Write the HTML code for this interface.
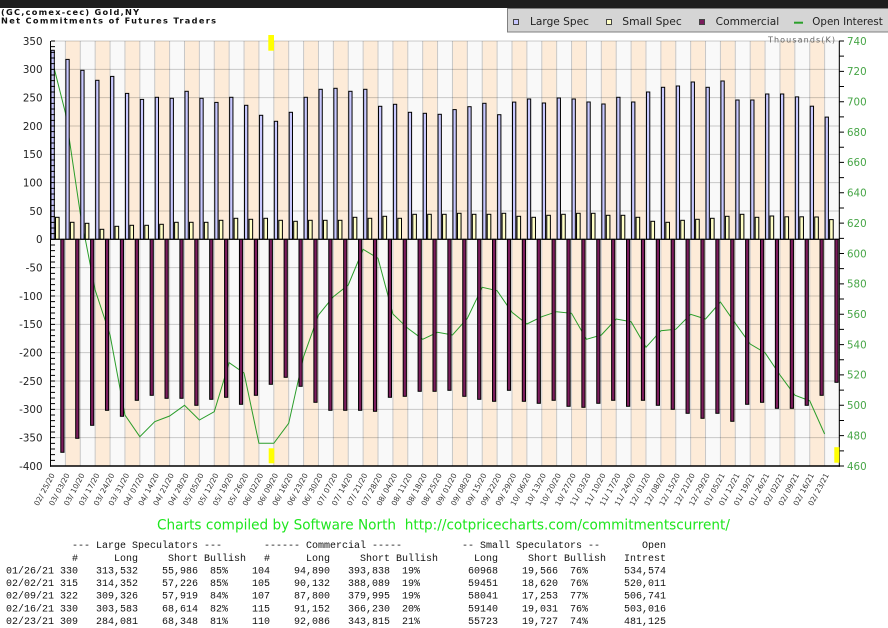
<!DOCTYPE html>
<html><head><meta charset="utf-8"><style>
html,body{margin:0;padding:0;background:#fff;width:888px;height:628px;overflow:hidden}
svg{display:block}
.a{fill:#c8c8ff;stroke:#000;stroke-width:1}
.b{fill:#ffffc6;stroke:#000;stroke-width:1}
.c{fill:#7b1c5c;stroke:#000;stroke-width:1}
.yl{font-family:"DejaVu Sans",sans-serif;font-size:10.3px;fill:#222;text-anchor:end}
.yr{font-family:"DejaVu Sans",sans-serif;font-size:10.3px;fill:#46a546}
.xl{font-family:"DejaVu Sans",sans-serif;font-size:7.4px;fill:#333;text-anchor:end}
.tb{font-family:"Liberation Mono",monospace;font-size:10px;fill:#111}
.lg{font-family:"DejaVu Sans",sans-serif;font-size:10.5px;fill:#222}
</style></head><body>
<svg width="888" height="628" viewBox="0 0 888 628" xmlns="http://www.w3.org/2000/svg">
<rect x="0" y="0" width="888" height="628" fill="#fff"/>
<rect x="0" y="0" width="888" height="8" fill="#1e1e1e"/>
<rect x="507.5" y="8.5" width="381" height="23.5" fill="#d5d5d5" stroke="#808080"/>
<rect x="513.5" y="19.5" width="5" height="5" fill="#c8c8ff" stroke="#444"/>
<text class="lg" x="530" y="25" textLength="59" lengthAdjust="spacingAndGlyphs">Large Spec</text>
<rect x="606.5" y="19.5" width="5" height="5" fill="#ffffc6" stroke="#444"/>
<text class="lg" x="622.3" y="25" textLength="59.5" lengthAdjust="spacingAndGlyphs">Small Spec</text>
<rect x="699.5" y="19.5" width="5" height="5" fill="#7b1c5c" stroke="#444"/>
<text class="lg" x="715.7" y="25" textLength="63.5" lengthAdjust="spacingAndGlyphs">Commercial</text>
<line x1="794" y1="22.7" x2="803" y2="22.7" stroke="#2aa02a" stroke-width="2"/>
<text class="lg" x="812.3" y="25" textLength="70.5" lengthAdjust="spacingAndGlyphs">Open Interest</text>
<text x="1" y="15" font-family="DejaVu Sans" font-weight="bold" font-size="8.2" fill="#111" textLength="138" lengthAdjust="spacing">(GC,comex-cec) Gold,NY</text>
<text x="1" y="23.4" font-family="DejaVu Sans" font-weight="bold" font-size="8.2" fill="#111" textLength="215" lengthAdjust="spacing">Net Commitments of Futures Traders</text>

<rect x="51" y="41" width="788.5" height="425" fill="#f9f9f9"/>
<line x1="65.39" y1="253.5" x2="839.5" y2="253.5" stroke="#fdebd8" stroke-width="425" stroke-dasharray="14.887 14.887"/>
<line x1="50" y1="253.5" x2="840" y2="253.5" stroke="#c8c8c8" stroke-width="425" stroke-dasharray="1 13.887"/>
<line x1="445" y1="40.5" x2="445" y2="466" stroke="rgba(0,0,0,0.2)" stroke-width="788" stroke-dasharray="1 27.3333"/>

<polyline fill="none" stroke="#2a9d2a" stroke-width="1" points="50.5,53.7 65.39,112.7 80.27,213.3 95.16,290 110.05,335 124.94,415 139.82,436.7 154.71,421.7 169.6,416 184.48,405.3 199.37,420 214.26,411.7 229.14,362.7 244.03,373 258.92,443.3 273.81,443.3 288.69,423.3 303.58,356.7 318.47,315 333.35,296.7 348.24,285 363.13,249.3 378.01,258.3 392.9,314 407.79,328.3 422.68,339.3 437.56,332.3 452.45,335 467.34,318.3 482.22,287.3 497.11,290.7 512,312.3 526.88,324 541.77,316.7 556.66,311.7 571.55,313.3 586.43,339.3 601.32,335 616.21,319 631.09,321.7 645.98,347.3 660.87,330.7 675.75,329.3 690.64,314.3 705.53,319 720.42,302 735.3,323.3 750.19,344 765.08,352.8 779.96,375 794.85,395.2 809.74,400.8 824.62,434"/>

<g transform="translate(50.5 0)"><rect class="a" x=".5" y="50.3" width="3.3" height="189"/><rect class="b" x="5" y="217.3" width="3.6" height="22"/><rect class="c" x="10.3" y="239.3" width="3.2" height="213"/></g>
<g transform="translate(65.39 0)"><rect class="a" x=".5" y="59.4" width="3.3" height="179.9"/><rect class="b" x="5" y="222.3" width="3.6" height="17"/><rect class="c" x="10.3" y="239.3" width="3.2" height="199"/></g>
<g transform="translate(80.27 0)"><rect class="a" x=".5" y="70.3" width="3.3" height="169"/><rect class="b" x="5" y="223.3" width="3.6" height="16"/><rect class="c" x="10.3" y="239.3" width="3.2" height="186"/></g>
<g transform="translate(95.16 0)"><rect class="a" x=".5" y="80.3" width="3.3" height="159"/><rect class="b" x="5" y="229.3" width="3.6" height="10"/><rect class="c" x="10.3" y="239.3" width="3.2" height="171"/></g>
<g transform="translate(110.05 0)"><rect class="a" x=".5" y="76.4" width="3.3" height="162.9"/><rect class="b" x="5" y="226.3" width="3.6" height="13"/><rect class="c" x="10.3" y="239.3" width="3.2" height="177"/></g>
<g transform="translate(124.94 0)"><rect class="a" x=".5" y="93.4" width="3.3" height="145.9"/><rect class="b" x="5" y="225.3" width="3.6" height="14"/><rect class="c" x="10.3" y="239.3" width="3.2" height="161"/></g>
<g transform="translate(139.82 0)"><rect class="a" x=".5" y="99.4" width="3.3" height="139.9"/><rect class="b" x="5" y="225.3" width="3.6" height="14"/><rect class="c" x="10.3" y="239.3" width="3.2" height="156"/></g>
<g transform="translate(154.71 0)"><rect class="a" x=".5" y="97.3" width="3.3" height="142"/><rect class="b" x="5" y="224.3" width="3.6" height="15"/><rect class="c" x="10.3" y="239.3" width="3.2" height="159"/></g>
<g transform="translate(169.6 0)"><rect class="a" x=".5" y="98.3" width="3.3" height="141"/><rect class="b" x="5" y="222.3" width="3.6" height="17"/><rect class="c" x="10.3" y="239.3" width="3.2" height="159"/></g>
<g transform="translate(184.48 0)"><rect class="a" x=".5" y="91.3" width="3.3" height="148"/><rect class="b" x="5" y="222.3" width="3.6" height="17"/><rect class="c" x="10.3" y="239.3" width="3.2" height="166"/></g>
<g transform="translate(199.37 0)"><rect class="a" x=".5" y="98.3" width="3.3" height="141"/><rect class="b" x="5" y="222.3" width="3.6" height="17"/><rect class="c" x="10.3" y="239.3" width="3.2" height="160"/></g>
<g transform="translate(214.26 0)"><rect class="a" x=".5" y="102.4" width="3.3" height="136.9"/><rect class="b" x="5" y="220.3" width="3.6" height="19"/><rect class="c" x="10.3" y="239.3" width="3.2" height="158"/></g>
<g transform="translate(229.14 0)"><rect class="a" x=".5" y="97.3" width="3.3" height="142"/><rect class="b" x="5" y="218.3" width="3.6" height="21"/><rect class="c" x="10.3" y="239.3" width="3.2" height="165"/></g>
<g transform="translate(244.03 0)"><rect class="a" x=".5" y="105.3" width="3.3" height="134"/><rect class="b" x="5" y="219.3" width="3.6" height="20"/><rect class="c" x="10.3" y="239.3" width="3.2" height="156"/></g>
<g transform="translate(258.92 0)"><rect class="a" x=".5" y="115.3" width="3.3" height="124"/><rect class="b" x="5" y="218.3" width="3.6" height="21"/><rect class="c" x="10.3" y="239.3" width="3.2" height="145"/></g>
<g transform="translate(273.81 0)"><rect class="a" x=".5" y="121.3" width="3.3" height="118"/><rect class="b" x="5" y="220.3" width="3.6" height="19"/><rect class="c" x="10.3" y="239.3" width="3.2" height="138"/></g>
<g transform="translate(288.69 0)"><rect class="a" x=".5" y="112.3" width="3.3" height="127"/><rect class="b" x="5" y="221.3" width="3.6" height="18"/><rect class="c" x="10.3" y="239.3" width="3.2" height="147"/></g>
<g transform="translate(303.58 0)"><rect class="a" x=".5" y="97.3" width="3.3" height="142"/><rect class="b" x="5" y="220.3" width="3.6" height="19"/><rect class="c" x="10.3" y="239.3" width="3.2" height="163"/></g>
<g transform="translate(318.47 0)"><rect class="a" x=".5" y="89.3" width="3.3" height="150"/><rect class="b" x="5" y="220.3" width="3.6" height="19"/><rect class="c" x="10.3" y="239.3" width="3.2" height="171"/></g>
<g transform="translate(333.35 0)"><rect class="a" x=".5" y="88.3" width="3.3" height="151"/><rect class="b" x="5" y="220.3" width="3.6" height="19"/><rect class="c" x="10.3" y="239.3" width="3.2" height="171"/></g>
<g transform="translate(348.24 0)"><rect class="a" x=".5" y="91.3" width="3.3" height="148"/><rect class="b" x="5" y="217.3" width="3.6" height="22"/><rect class="c" x="10.3" y="239.3" width="3.2" height="171"/></g>
<g transform="translate(363.13 0)"><rect class="a" x=".5" y="89.3" width="3.3" height="150"/><rect class="b" x="5" y="218.3" width="3.6" height="21"/><rect class="c" x="10.3" y="239.3" width="3.2" height="172"/></g>
<g transform="translate(378.01 0)"><rect class="a" x=".5" y="106.3" width="3.3" height="133"/><rect class="b" x="5" y="216.3" width="3.6" height="23"/><rect class="c" x="10.3" y="239.3" width="3.2" height="158"/></g>
<g transform="translate(392.9 0)"><rect class="a" x=".5" y="104.3" width="3.3" height="135"/><rect class="b" x="5" y="218.3" width="3.6" height="21"/><rect class="c" x="10.3" y="239.3" width="3.2" height="157"/></g>
<g transform="translate(407.79 0)"><rect class="a" x=".5" y="112.3" width="3.3" height="127"/><rect class="b" x="5" y="214.3" width="3.6" height="25"/><rect class="c" x="10.3" y="239.3" width="3.2" height="152"/></g>
<g transform="translate(422.68 0)"><rect class="a" x=".5" y="113.3" width="3.3" height="126"/><rect class="b" x="5" y="214.3" width="3.6" height="25"/><rect class="c" x="10.3" y="239.3" width="3.2" height="152"/></g>
<g transform="translate(437.56 0)"><rect class="a" x=".5" y="114.3" width="3.3" height="125"/><rect class="b" x="5" y="214.3" width="3.6" height="25"/><rect class="c" x="10.3" y="239.3" width="3.2" height="151"/></g>
<g transform="translate(452.45 0)"><rect class="a" x=".5" y="109.6" width="3.3" height="129.7"/><rect class="b" x="5" y="213.3" width="3.6" height="26"/><rect class="c" x="10.3" y="239.3" width="3.2" height="157"/></g>
<g transform="translate(467.34 0)"><rect class="a" x=".5" y="106.7" width="3.3" height="132.6"/><rect class="b" x="5" y="214.3" width="3.6" height="25"/><rect class="c" x="10.3" y="239.3" width="3.2" height="160"/></g>
<g transform="translate(482.22 0)"><rect class="a" x=".5" y="103.3" width="3.3" height="136"/><rect class="b" x="5" y="214.3" width="3.6" height="25"/><rect class="c" x="10.3" y="239.3" width="3.2" height="162"/></g>
<g transform="translate(497.11 0)"><rect class="a" x=".5" y="114.7" width="3.3" height="124.6"/><rect class="b" x="5" y="213.3" width="3.6" height="26"/><rect class="c" x="10.3" y="239.3" width="3.2" height="151"/></g>
<g transform="translate(512 0)"><rect class="a" x=".5" y="102.1" width="3.3" height="137.2"/><rect class="b" x="5" y="216.3" width="3.6" height="23"/><rect class="c" x="10.3" y="239.3" width="3.2" height="162"/></g>
<g transform="translate(526.88 0)"><rect class="a" x=".5" y="99" width="3.3" height="140.3"/><rect class="b" x="5" y="217.3" width="3.6" height="22"/><rect class="c" x="10.3" y="239.3" width="3.2" height="164"/></g>
<g transform="translate(541.77 0)"><rect class="a" x=".5" y="103" width="3.3" height="136.3"/><rect class="b" x="5" y="215.3" width="3.6" height="24"/><rect class="c" x="10.3" y="239.3" width="3.2" height="161"/></g>
<g transform="translate(556.66 0)"><rect class="a" x=".5" y="98" width="3.3" height="141.3"/><rect class="b" x="5" y="214.3" width="3.6" height="25"/><rect class="c" x="10.3" y="239.3" width="3.2" height="167"/></g>
<g transform="translate(571.55 0)"><rect class="a" x=".5" y="99" width="3.3" height="140.3"/><rect class="b" x="5" y="213.3" width="3.6" height="26"/><rect class="c" x="10.3" y="239.3" width="3.2" height="168"/></g>
<g transform="translate(586.43 0)"><rect class="a" x=".5" y="102" width="3.3" height="137.3"/><rect class="b" x="5" y="213.3" width="3.6" height="26"/><rect class="c" x="10.3" y="239.3" width="3.2" height="164"/></g>
<g transform="translate(601.32 0)"><rect class="a" x=".5" y="104" width="3.3" height="135.3"/><rect class="b" x="5" y="215.3" width="3.6" height="24"/><rect class="c" x="10.3" y="239.3" width="3.2" height="161"/></g>
<g transform="translate(616.21 0)"><rect class="a" x=".5" y="97.3" width="3.3" height="142"/><rect class="b" x="5" y="215.3" width="3.6" height="24"/><rect class="c" x="10.3" y="239.3" width="3.2" height="167"/></g>
<g transform="translate(631.09 0)"><rect class="a" x=".5" y="102" width="3.3" height="137.3"/><rect class="b" x="5" y="217.3" width="3.6" height="22"/><rect class="c" x="10.3" y="239.3" width="3.2" height="161"/></g>
<g transform="translate(645.98 0)"><rect class="a" x=".5" y="92" width="3.3" height="147.3"/><rect class="b" x="5" y="221.3" width="3.6" height="18"/><rect class="c" x="10.3" y="239.3" width="3.2" height="166"/></g>
<g transform="translate(660.87 0)"><rect class="a" x=".5" y="87.3" width="3.3" height="152"/><rect class="b" x="5" y="222.3" width="3.6" height="17"/><rect class="c" x="10.3" y="239.3" width="3.2" height="170"/></g>
<g transform="translate(675.75 0)"><rect class="a" x=".5" y="86" width="3.3" height="153.3"/><rect class="b" x="5" y="220.3" width="3.6" height="19"/><rect class="c" x="10.3" y="239.3" width="3.2" height="174"/></g>
<g transform="translate(690.64 0)"><rect class="a" x=".5" y="82" width="3.3" height="157.3"/><rect class="b" x="5" y="219.3" width="3.6" height="20"/><rect class="c" x="10.3" y="239.3" width="3.2" height="179"/></g>
<g transform="translate(705.53 0)"><rect class="a" x=".5" y="87.3" width="3.3" height="152"/><rect class="b" x="5" y="218.3" width="3.6" height="21"/><rect class="c" x="10.3" y="239.3" width="3.2" height="174"/></g>
<g transform="translate(720.42 0)"><rect class="a" x=".5" y="81" width="3.3" height="158.3"/><rect class="b" x="5" y="216.3" width="3.6" height="23"/><rect class="c" x="10.3" y="239.3" width="3.2" height="182"/></g>
<g transform="translate(735.3 0)"><rect class="a" x=".5" y="100" width="3.3" height="139.3"/><rect class="b" x="5" y="214.3" width="3.6" height="25"/><rect class="c" x="10.3" y="239.3" width="3.2" height="165"/></g>
<g transform="translate(750.19 0)"><rect class="a" x=".5" y="100" width="3.3" height="139.3"/><rect class="b" x="5" y="217.3" width="3.6" height="22"/><rect class="c" x="10.3" y="239.3" width="3.2" height="163"/></g>
<g transform="translate(765.08 0)"><rect class="a" x=".5" y="94" width="3.3" height="145.3"/><rect class="b" x="5" y="216" width="3.6" height="23.3"/><rect class="c" x="10.3" y="239.3" width="3.2" height="169"/></g>
<g transform="translate(779.96 0)"><rect class="a" x=".5" y="94" width="3.3" height="145.3"/><rect class="b" x="5" y="216.8" width="3.6" height="22.5"/><rect class="c" x="10.3" y="239.3" width="3.2" height="169"/></g>
<g transform="translate(794.85 0)"><rect class="a" x=".5" y="96.9" width="3.3" height="142.4"/><rect class="b" x="5" y="216.8" width="3.6" height="22.5"/><rect class="c" x="10.3" y="239.3" width="3.2" height="166"/></g>
<g transform="translate(809.74 0)"><rect class="a" x=".5" y="106.2" width="3.3" height="133.1"/><rect class="b" x="5" y="217" width="3.6" height="22.3"/><rect class="c" x="10.3" y="239.3" width="3.2" height="156"/></g>
<g transform="translate(824.62 0)"><rect class="a" x=".5" y="117.1" width="3.3" height="122.2"/><rect class="b" x="5" y="219.6" width="3.6" height="19.7"/><rect class="c" x="10.3" y="239.3" width="3.2" height="143"/></g>

<line x1="51" y1="239.3" x2="839" y2="239.3" stroke="#000" stroke-width="1"/>
<line x1="50.5" y1="41" x2="50.5" y2="466.7" stroke="#000" stroke-width="1"/>
<line x1="50" y1="466" x2="840" y2="466" stroke="#000" stroke-width="1.5"/>
<line x1="839.3" y1="41" x2="839.3" y2="466.7" stroke="#000" stroke-width="1"/>
<line x1="53" y1="40.5" x2="53" y2="467" stroke="#000" stroke-width="4" stroke-dasharray="1 4.6667"/>
<line x1="841.5" y1="40.5" x2="841.5" y2="467" stroke="#000" stroke-width="5" stroke-dasharray="1 14.1786"/>

<rect x="268.3" y="35" width="5.7" height="15.7" fill="#ffff00"/>
<rect x="268.7" y="448.3" width="5.6" height="15" fill="#ffff00"/>
<rect x="834.3" y="447.2" width="5" height="15.5" fill="#ffff00"/>

<text class="yl" x="42.5" y="44.8">350</text>
<text class="yl" x="42.5" y="73.1">300</text>
<text class="yl" x="42.5" y="101.5">250</text>
<text class="yl" x="42.5" y="129.8">200</text>
<text class="yl" x="42.5" y="158.1">150</text>
<text class="yl" x="42.5" y="186.5">100</text>
<text class="yl" x="42.5" y="214.8">50</text>
<text class="yl" x="42.5" y="243.1">0</text>
<text class="yl" x="42.5" y="271.5">-50</text>
<text class="yl" x="42.5" y="299.8">-100</text>
<text class="yl" x="42.5" y="328.1">-150</text>
<text class="yl" x="42.5" y="356.5">-200</text>
<text class="yl" x="42.5" y="384.8">-250</text>
<text class="yl" x="42.5" y="413.1">-300</text>
<text class="yl" x="42.5" y="441.5">-350</text>
<text class="yl" x="42.5" y="469.8">-400</text>

<text x="768" y="42.3" font-family="DejaVu Sans" font-size="8" fill="#666" textLength="67" lengthAdjust="spacing">Thousands(K)</text>
<text class="yr" x="847" y="44.8">740</text>
<text class="yr" x="847" y="75.2">720</text>
<text class="yr" x="847" y="105.5">700</text>
<text class="yr" x="847" y="135.9">680</text>
<text class="yr" x="847" y="166.2">660</text>
<text class="yr" x="847" y="196.6">640</text>
<text class="yr" x="847" y="226.9">620</text>
<text class="yr" x="847" y="257.3">600</text>
<text class="yr" x="847" y="287.7">580</text>
<text class="yr" x="847" y="318">560</text>
<text class="yr" x="847" y="348.4">540</text>
<text class="yr" x="847" y="378.7">520</text>
<text class="yr" x="847" y="409.1">500</text>
<text class="yr" x="847" y="439.4">480</text>
<text class="yr" x="847" y="469.8">460</text>

<text class="xl" transform="translate(55 475) rotate(-62)">02/ 25/20</text>
<text class="xl" transform="translate(69.89 475) rotate(-62)">03/ 03/20</text>
<text class="xl" transform="translate(84.77 475) rotate(-62)">03/ 10/20</text>
<text class="xl" transform="translate(99.66 475) rotate(-62)">03/ 17/20</text>
<text class="xl" transform="translate(114.55 475) rotate(-62)">03/ 24/20</text>
<text class="xl" transform="translate(129.44 475) rotate(-62)">03/ 31/20</text>
<text class="xl" transform="translate(144.32 475) rotate(-62)">04/ 07/20</text>
<text class="xl" transform="translate(159.21 475) rotate(-62)">04/ 14/20</text>
<text class="xl" transform="translate(174.1 475) rotate(-62)">04/ 21/20</text>
<text class="xl" transform="translate(188.98 475) rotate(-62)">04/ 28/20</text>
<text class="xl" transform="translate(203.87 475) rotate(-62)">05/ 05/20</text>
<text class="xl" transform="translate(218.76 475) rotate(-62)">05/ 12/20</text>
<text class="xl" transform="translate(233.64 475) rotate(-62)">05/ 19/20</text>
<text class="xl" transform="translate(248.53 475) rotate(-62)">05/ 26/20</text>
<text class="xl" transform="translate(263.42 475) rotate(-62)">06/ 02/20</text>
<text class="xl" transform="translate(278.31 475) rotate(-62)">06/ 09/20</text>
<text class="xl" transform="translate(293.19 475) rotate(-62)">06/ 16/20</text>
<text class="xl" transform="translate(308.08 475) rotate(-62)">06/ 23/20</text>
<text class="xl" transform="translate(322.97 475) rotate(-62)">06/ 30/20</text>
<text class="xl" transform="translate(337.85 475) rotate(-62)">07/ 07/20</text>
<text class="xl" transform="translate(352.74 475) rotate(-62)">07/ 14/20</text>
<text class="xl" transform="translate(367.63 475) rotate(-62)">07/ 21/20</text>
<text class="xl" transform="translate(382.51 475) rotate(-62)">07/ 28/20</text>
<text class="xl" transform="translate(397.4 475) rotate(-62)">08/ 04/20</text>
<text class="xl" transform="translate(412.29 475) rotate(-62)">08/ 11/20</text>
<text class="xl" transform="translate(427.18 475) rotate(-62)">08/ 18/20</text>
<text class="xl" transform="translate(442.06 475) rotate(-62)">08/ 25/20</text>
<text class="xl" transform="translate(456.95 475) rotate(-62)">09/ 01/20</text>
<text class="xl" transform="translate(471.84 475) rotate(-62)">09/ 08/20</text>
<text class="xl" transform="translate(486.72 475) rotate(-62)">09/ 15/20</text>
<text class="xl" transform="translate(501.61 475) rotate(-62)">09/ 22/20</text>
<text class="xl" transform="translate(516.5 475) rotate(-62)">09/ 29/20</text>
<text class="xl" transform="translate(531.38 475) rotate(-62)">10/ 06/20</text>
<text class="xl" transform="translate(546.27 475) rotate(-62)">10/ 13/20</text>
<text class="xl" transform="translate(561.16 475) rotate(-62)">10/ 20/20</text>
<text class="xl" transform="translate(576.05 475) rotate(-62)">10/ 27/20</text>
<text class="xl" transform="translate(590.93 475) rotate(-62)">11/ 03/20</text>
<text class="xl" transform="translate(605.82 475) rotate(-62)">11/ 10/20</text>
<text class="xl" transform="translate(620.71 475) rotate(-62)">11/ 17/20</text>
<text class="xl" transform="translate(635.59 475) rotate(-62)">11/ 24/20</text>
<text class="xl" transform="translate(650.48 475) rotate(-62)">12/ 01/20</text>
<text class="xl" transform="translate(665.37 475) rotate(-62)">12/ 08/20</text>
<text class="xl" transform="translate(680.25 475) rotate(-62)">12/ 15/20</text>
<text class="xl" transform="translate(695.14 475) rotate(-62)">12/ 21/20</text>
<text class="xl" transform="translate(710.03 475) rotate(-62)">12/ 29/20</text>
<text class="xl" transform="translate(724.92 475) rotate(-62)">01/ 05/21</text>
<text class="xl" transform="translate(739.8 475) rotate(-62)">01/ 12/21</text>
<text class="xl" transform="translate(754.69 475) rotate(-62)">01/ 19/21</text>
<text class="xl" transform="translate(769.58 475) rotate(-62)">01/ 26/21</text>
<text class="xl" transform="translate(784.46 475) rotate(-62)">02/ 02/21</text>
<text class="xl" transform="translate(799.35 475) rotate(-62)">02/ 09/21</text>
<text class="xl" transform="translate(814.24 475) rotate(-62)">02/ 16/21</text>
<text class="xl" transform="translate(829.12 475) rotate(-62)">02/ 23/21</text>

<text x="157" y="529.3" font-family="DejaVu Sans" font-size="14.5" fill="#1ee61e" style="white-space:pre" textLength="573" lengthAdjust="spacingAndGlyphs">Charts compiled by Software North  http://cotpricecharts.com/commitmentscurrent/</text>

<text class="tb" y="547.8"><tspan x="72">--- Large Speculators ---</tspan><tspan x="264">------ Commercial -----</tspan><tspan x="462">-- Small Speculators --</tspan><tspan x="642">Open</tspan></text>
<text class="tb" y="561"><tspan x="72">#</tspan><tspan x="114">Long</tspan><tspan x="168">Short</tspan><tspan x="204">Bullish</tspan><tspan x="264">#</tspan><tspan x="306">Long</tspan><tspan x="360">Short</tspan><tspan x="396">Bullish</tspan><tspan x="474">Long</tspan><tspan x="528">Short</tspan><tspan x="564">Bullish</tspan><tspan x="624">Intrest</tspan></text>
<text class="tb" y="573.4"><tspan x="6">01/26/21</tspan><tspan x="60">330</tspan><tspan x="96">313,532</tspan><tspan x="162">55,986</tspan><tspan x="210">85%</tspan><tspan x="252">104</tspan><tspan x="294">94,890</tspan><tspan x="348">393,838</tspan><tspan x="402">19%</tspan><tspan x="468">60968</tspan><tspan x="522">19,566</tspan><tspan x="570">76%</tspan><tspan x="624">534,574</tspan></text>
<text class="tb" y="586.1"><tspan x="6">02/02/21</tspan><tspan x="60">315</tspan><tspan x="96">314,352</tspan><tspan x="162">57,226</tspan><tspan x="210">85%</tspan><tspan x="252">105</tspan><tspan x="294">90,132</tspan><tspan x="348">388,089</tspan><tspan x="402">19%</tspan><tspan x="468">59451</tspan><tspan x="522">18,620</tspan><tspan x="570">76%</tspan><tspan x="624">520,011</tspan></text>
<text class="tb" y="598.7"><tspan x="6">02/09/21</tspan><tspan x="60">322</tspan><tspan x="96">309,326</tspan><tspan x="162">57,919</tspan><tspan x="210">84%</tspan><tspan x="252">107</tspan><tspan x="294">87,800</tspan><tspan x="348">379,995</tspan><tspan x="402">19%</tspan><tspan x="468">58041</tspan><tspan x="522">17,253</tspan><tspan x="570">77%</tspan><tspan x="624">506,741</tspan></text>
<text class="tb" y="611.4"><tspan x="6">02/16/21</tspan><tspan x="60">330</tspan><tspan x="96">303,583</tspan><tspan x="162">68,614</tspan><tspan x="210">82%</tspan><tspan x="252">115</tspan><tspan x="294">91,152</tspan><tspan x="348">366,230</tspan><tspan x="402">20%</tspan><tspan x="468">59140</tspan><tspan x="522">19,031</tspan><tspan x="570">76%</tspan><tspan x="624">503,016</tspan></text>
<text class="tb" y="624"><tspan x="6">02/23/21</tspan><tspan x="60">309</tspan><tspan x="96">284,081</tspan><tspan x="162">68,348</tspan><tspan x="210">81%</tspan><tspan x="252">110</tspan><tspan x="294">92,086</tspan><tspan x="348">343,815</tspan><tspan x="402">21%</tspan><tspan x="468">55723</tspan><tspan x="522">19,727</tspan><tspan x="570">74%</tspan><tspan x="624">481,125</tspan></text>
</svg>
</body></html>
